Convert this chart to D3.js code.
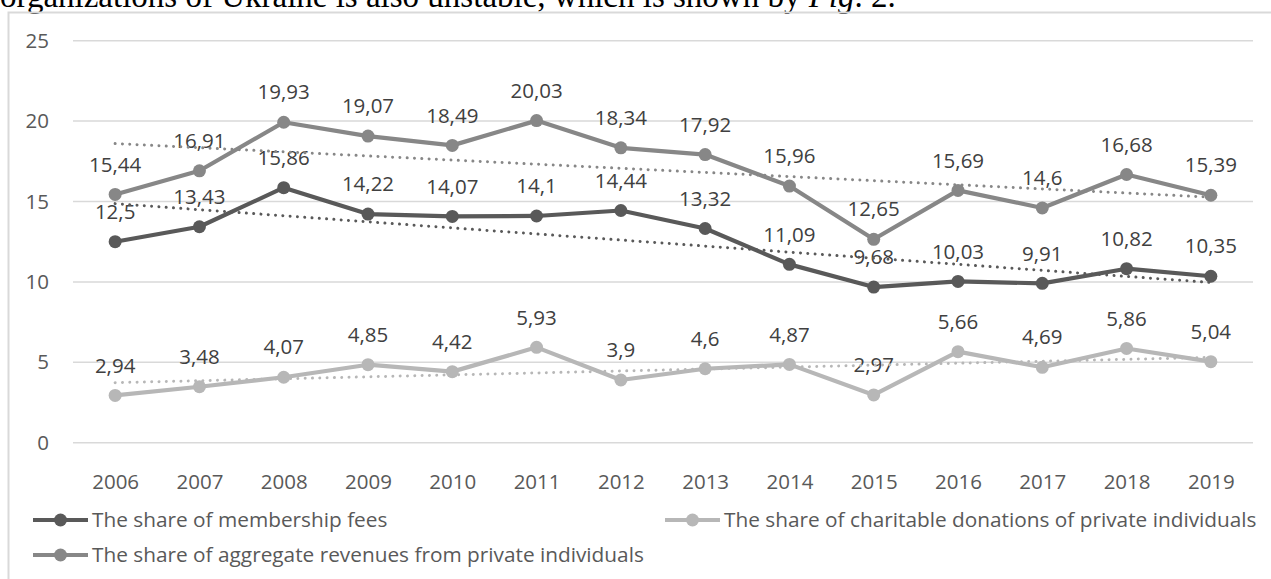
<!DOCTYPE html>
<html>
<head>
<meta charset="utf-8">
<script src="https://cdn.jsdelivr.net/npm/d3@7"></script>
<style>
  html, body { margin: 0; padding: 0; background: #fff; overflow: hidden; }
  svg { display: block; }
</style>
</head>
<body>
<svg id="chart" width="1271" height="579"></svg>
<script>
// ---- data ----
const years = ["2006","2007","2008","2009","2010","2011","2012","2013","2014","2015","2016","2017","2018","2019"];
const membershipFees = [12.5, 13.43, 15.86, 14.22, 14.07, 14.1, 14.44, 13.32, 11.09, 9.68, 10.03, 9.91, 10.82, 10.35];
const charitableDonations = [2.94, 3.48, 4.07, 4.85, 4.42, 5.93, 3.9, 4.6, 4.87, 2.97, 5.66, 4.69, 5.86, 5.04];
const aggregateRevenues = [15.44, 16.91, 19.93, 19.07, 18.49, 20.03, 18.34, 17.92, 15.96, 12.65, 15.69, 14.6, 16.68, 15.39];
const yTicks = [0, 5, 10, 15, 20, 25];
const seriesNames = [
  "The share of membership fees",
  "The share of charitable donations of private individuals",
  "The share of aggregate revenues from private individuals"
];
const captionText = "organizations of Ukraine is also unstable, which is shown by ";
const captionItalic = "Fig";
const captionEnd = ". 2.";

const series = [
  { name: seriesNames[0], values: membershipFees, color: "#595959" },
  { name: seriesNames[1], values: charitableDonations, color: "#b7b7b7" },
  { name: seriesNames[2], values: aggregateRevenues, color: "#878787" }
];

const svg = d3.select("#chart");
const FONT = "'Open Sans', 'Noto Sans', sans-serif";

// caption text (clipped at top, as in the source page)
const cap = svg.append("text")
  .attr("x", 0).attr("y", 7)
  .attr("font-family", "'Liberation Serif', 'Times New Roman', serif")
  .attr("font-size", 33)
  .attr("fill", "#000");
cap.append("tspan").text(captionText);
cap.append("tspan").attr("font-style", "italic").text(captionItalic);
cap.append("tspan").text(captionEnd);

// chart frame
svg.append("rect")
  .attr("x", 8.5).attr("y", 12.5)
  .attr("width", 1300).attr("height", 600)
  .attr("fill", "none")
  .attr("stroke", "#d9d9d9")
  .attr("stroke-width", 2);

const x = d3.scalePoint().domain(years).range([73, 1253]).padding(0.5);
const y = d3.scaleLinear().domain([0, 25]).range([442.7, 40.7]);

// gridlines
svg.append("g").selectAll("line").data(yTicks).join("line")
  .attr("x1", 73).attr("x2", 1253)
  .attr("y1", d => y(d)).attr("y2", d => y(d))
  .attr("stroke", "#d9d9d9").attr("stroke-width", 1.5);

// y axis labels
const yAxis = svg.append("g").attr("transform", "translate(58,0)")
  .call(d3.axisLeft(y).tickValues(yTicks).tickSize(0).tickPadding(9).tickFormat(d3.format("d")));
yAxis.select(".domain").remove();
yAxis.selectAll("text")
  .attr("font-family", FONT).attr("font-size", 20.5).attr("fill", "#595959");

// x axis labels
const xAxis = svg.append("g").attr("transform", "translate(0,482)")
  .call(d3.axisBottom(x).tickSize(0).tickPadding(0));
xAxis.select(".domain").remove();
xAxis.selectAll("text")
  .attr("font-family", FONT).attr("font-size", 20.5).attr("fill", "#595959")
  .attr("dy", "0.35em");

// linear trendlines (least squares)
function trend(values) {
  const n = values.length;
  const xs = d3.range(n);
  const mx = d3.mean(xs), my = d3.mean(values);
  const b = d3.sum(xs, (xi, i) => (xi - mx) * (values[i] - my)) / d3.sum(xs, xi => (xi - mx) ** 2);
  const a = my - b * mx;
  return [[0, a], [n - 1, a + b * (n - 1)]];
}

const line = d3.line()
  .x((d, i) => x(years[i]))
  .y(d => y(d));

// series lines + markers
series.forEach(s => {
  const g = svg.append("g");
  g.append("path")
    .datum(s.values)
    .attr("d", line)
    .attr("fill", "none")
    .attr("stroke", s.color)
    .attr("stroke-width", 4.2)
    .attr("stroke-linejoin", "round");
  g.selectAll("circle").data(s.values).join("circle")
    .attr("cx", (d, i) => x(years[i]))
    .attr("cy", d => y(d))
    .attr("r", 6.5)
    .attr("fill", s.color);
});

// data labels
const fmt = v => String(v).replace(".", ",");
series.forEach(s => {
  svg.append("g").selectAll("text").data(s.values).join("text")
    .attr("x", (d, i) => x(years[i]))
    .attr("y", d => y(d) - 30)
    .attr("dy", "0.35em")
    .attr("text-anchor", "middle")
    .attr("font-family", FONT).attr("font-size", 20.5)
    .attr("fill", "#404040")
    .text(d => fmt(d));
});

// trendlines (dotted)
series.forEach(s => {
  const t = trend(s.values);
  svg.append("line")
    .attr("x1", x(years[t[0][0]])).attr("y1", y(t[0][1]))
    .attr("x2", x(years[t[1][0]])).attr("y2", y(t[1][1]))
    .attr("stroke", s.color)
    .attr("stroke-width", 3)
    .attr("stroke-linecap", "round")
    .attr("stroke-dasharray", "0.01 7.3");
});

// legend
const legendItems = [
  { s: series[0], lx: 33, ly: 520 },
  { s: series[1], lx: 665, ly: 520 },
  { s: series[2], lx: 33, ly: 555 }
];
const lg = svg.append("g");
legendItems.forEach(it => {
  lg.append("line")
    .attr("x1", it.lx).attr("x2", it.lx + 55)
    .attr("y1", it.ly).attr("y2", it.ly)
    .attr("stroke", it.s.color).attr("stroke-width", 4.2);
  lg.append("circle")
    .attr("cx", it.lx + 27.5).attr("cy", it.ly).attr("r", 6.5)
    .attr("fill", it.s.color);
  lg.append("text")
    .attr("x", it.lx + 59).attr("y", it.ly)
    .attr("dy", "0.35em")
    .attr("font-family", FONT).attr("font-size", 20.8)
    .attr("fill", "#595959")
    .text(it.s.name);
});
</script>
</body>
</html>
